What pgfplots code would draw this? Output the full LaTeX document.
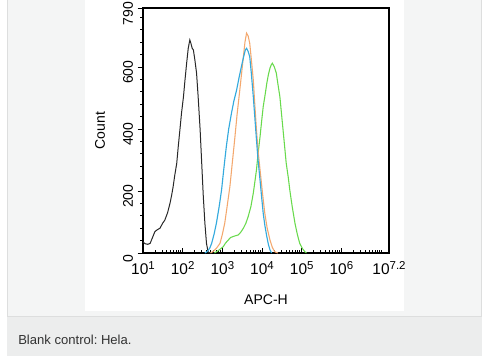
\documentclass[border=0pt]{standalone}
\usepackage{pgfplots}
\pgfplotsset{compat=1.18}
\usepackage{fontspec}
\setmainfont{Liberation Sans}
\frenchspacing
\definecolor{panelgray}{RGB}{244,245,245}
\definecolor{bordergray}{RGB}{221,222,222}
\definecolor{capgray}{RGB}{236,237,237}
\definecolor{captext}{RGB}{51,51,51}
\definecolor{cblack}{RGB}{40,40,40}
\definecolor{cblue}{RGB}{52,170,222}
\definecolor{corange}{RGB}{244,168,110}
\definecolor{cgreen}{RGB}{104,218,76}
\newcommand{\tp}[1]{10\raisebox{0.62ex}{\fontsize{8.6}{9}\selectfont #1}}

\pgfplotstableread{
d c
1.00 36
1.05 30
1.12 28
1.18 31
1.24 50
1.30 69
1.36 75
1.43 80
1.49 95
1.55 106
1.62 130
1.68 160
1.72 185
1.76 214
1.80 250
1.85 289
1.89 345
1.93 397
1.97 450
2.02 504
2.06 560
2.10 612
2.14 660
2.18 687
2.21 675
2.24 660
2.27 655
2.31 620
2.35 580
2.39 504
2.44 397
2.48 289
2.52 182
2.56 96
2.60 31
2.64 4
2.68 0
}\blackdata

\pgfplotstableread{
d c
2.56 0
2.62 5
2.68 15
2.73 31
2.79 60
2.85 96
2.92 150
2.98 203
3.04 275
3.10 343
3.16 400
3.23 451
3.29 490
3.36 526
3.42 565
3.48 601
3.54 635
3.58 655
3.61 660
3.65 650
3.69 633
3.73 580
3.78 504
3.82 435
3.86 365
3.90 300
3.95 235
3.99 180
4.03 128
4.07 90
4.12 53
4.16 28
4.20 10
4.24 0
}\bluedata

\pgfplotstableread{
d c
2.70 0
2.77 5
2.85 15
2.94 31
3.00 60
3.06 96
3.12 150
3.19 214
3.25 290
3.31 365
3.37 445
3.44 526
3.49 585
3.53 633
3.57 680
3.61 709
3.65 700
3.69 676
3.73 625
3.78 558
3.82 475
3.86 397
3.90 330
3.95 268
4.01 195
4.07 128
4.13 80
4.20 42
4.26 18
4.32 4
4.40 0
}\orangedata

\pgfplotstableread{
d c
2.80 0
2.90 8
3.02 20
3.08 32
3.15 42
3.21 50
3.27 53
3.34 56
3.40 58
3.47 68
3.53 80
3.59 95
3.65 117
3.72 150
3.78 193
3.82 230
3.86 268
3.90 320
3.95 375
3.99 425
4.03 472
4.08 512
4.12 547
4.16 575
4.20 596
4.23 606
4.26 612
4.31 600
4.36 580
4.40 545
4.45 504
4.49 450
4.53 397
4.57 343
4.61 289
4.66 245
4.70 203
4.76 150
4.83 96
4.89 60
4.95 31
5.02 14
5.08 4
5.12 0
}\greendata

\begin{document}
\begin{tikzpicture}[x=0.75pt,y=0.75pt]
% image coordinates: y_tikz = 356 - y_img
\fill[white] (0,0) rectangle (483,356);
\fill[panelgray] (7,39.5) rectangle (481.5,356);
\draw[bordergray, line width=0.75pt] (7.5,356) -- (7.5,39.5) -- (481.5,39.5) -- (481.5,356);
\fill[capgray] (7,0) rectangle (482,39);
\fill[white] (85,45) rectangle (404,356);
\node[anchor=west, text=captext, font=\fontsize{9.8}{12}\selectfont, inner sep=0pt] at (18,16) {Blank control: Hela.};
\begin{axis}[
  at={(107.25pt,77.25pt)}, anchor=south west,
  scale only axis,
  width=184.5pt, height=183.75pt,
  xmin=1, xmax=7.2, ymin=0, ymax=790,
  axis line style={line width=0.8pt, black},
  xtick={1,2,3,4,5,6,7.2},
  xticklabels={\tp{1},\tp{2},\tp{3},\tp{4},\tp{5},\tp{6},\tp{7.2}},
  minor xtick={1.301,1.477,1.602,1.699,1.778,1.845,1.903,1.954,
               2.301,2.477,2.602,2.699,2.778,2.845,2.903,2.954,
               3.301,3.477,3.602,3.699,3.778,3.845,3.903,3.954,
               4.301,4.477,4.602,4.699,4.778,4.845,4.903,4.954,
               5.301,5.477,5.602,5.699,5.778,5.845,5.903,5.954,
               6.301,6.477,6.602,6.699,6.778,6.845,6.903,6.954,7},
  ytick={0,200,400,600,790},
  minor ytick={40,80,120,160,240,280,320,360,440,480,520,560,640,680,720,760},
  xtick pos=bottom, ytick pos=left,
  xtick align=inside, ytick align=outside,
  major tick length=4pt, minor tick length=2.2pt,
  every tick/.style={black, line width=0.6pt},
  tick label style={font=\fontsize{10.5}{12}\selectfont},
  xticklabel style={font=\fontsize{11.6}{13}\selectfont, yshift=-3pt},
  /pgf/number format/assume math mode=true,
  yticklabel style={rotate=90, anchor=south, xshift=-4pt},
  xlabel={APC-H},
  ylabel={Count},
  label style={font=\fontsize{10.5}{12}\selectfont},
  xlabel style={at={(axis description cs:0.5,0)}, anchor=center, yshift=-35pt},
  ylabel style={at={(axis description cs:-0.175,0.5)}, anchor=center},
  clip=false,
]
\addplot[cblack, line width=0.75pt] table[x=d,y=c] {\blackdata};
\addplot[cgreen, line width=0.8pt] table[x=d,y=c] {\greendata};
\addplot[corange, line width=0.8pt] table[x=d,y=c] {\orangedata};
\addplot[cblue, line width=0.85pt] table[x=d,y=c] {\bluedata};
\end{axis}
\pgfresetboundingbox
\useasboundingbox (0,0) rectangle (483,356);
\end{tikzpicture}
\end{document}
